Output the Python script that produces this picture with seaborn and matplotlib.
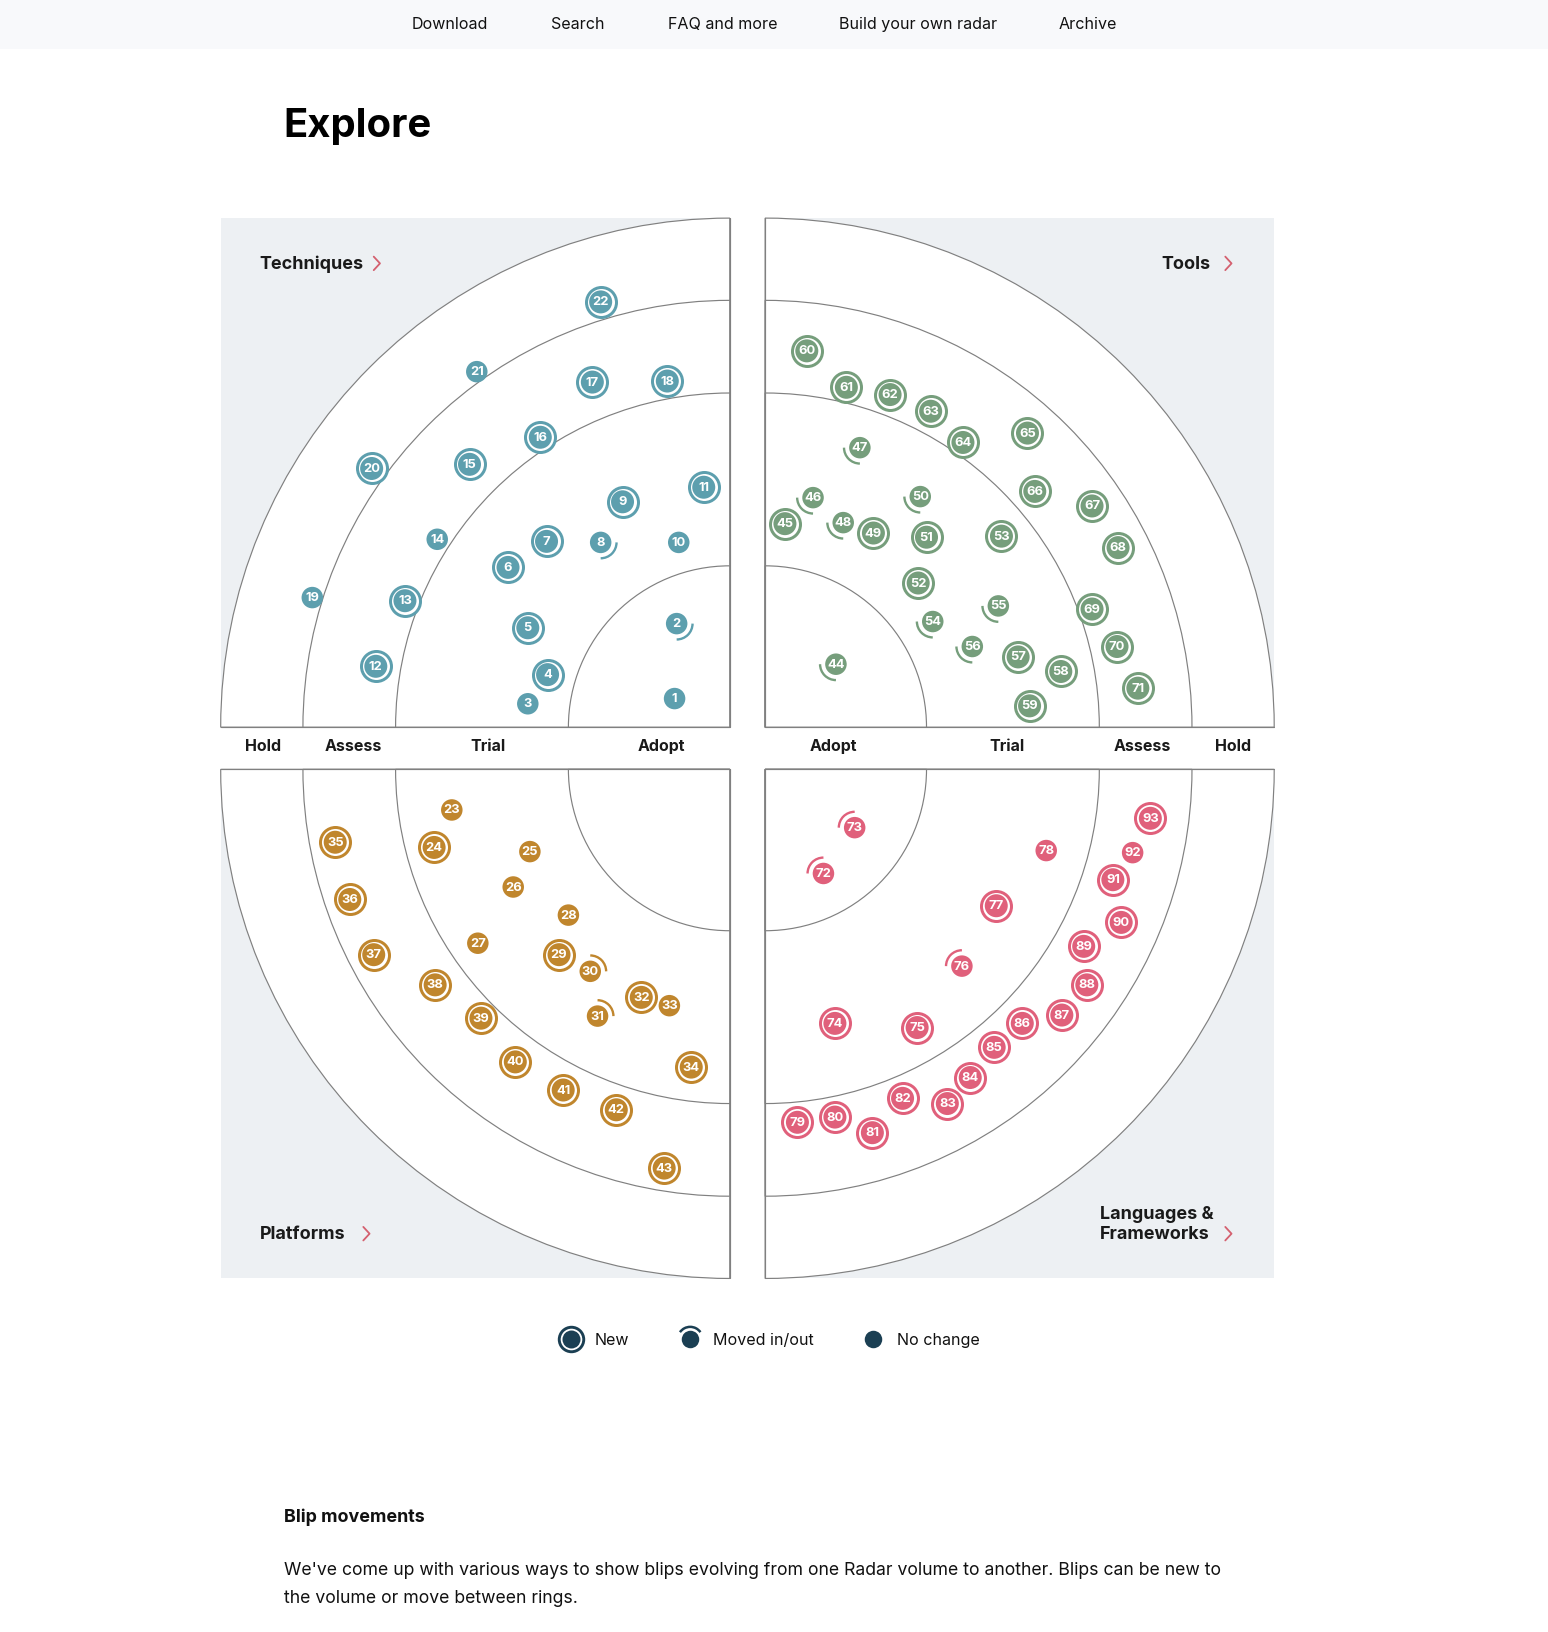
import numpy as np
import pandas as pd
import matplotlib
matplotlib.use('Agg')
import matplotlib.pyplot as plt
from matplotlib.patches import Wedge, Arc, Rectangle
import seaborn as sns

sns.set_theme(style='white')
plt.rcParams['font.family'] = ['Inter', 'DejaVu Sans']

# Blip positions, as offset from the radar centre
tech_ids = list(range(1, 23))
tech_x = [-53, -51, -194, -175, -194, -213, -176, -124, -103, -49, -25,
          -340, -312, -281, -250, -182, -132, -60, -401, -344, -243, -124]
tech_y = [27.5, 99.5, 22.5, 50.5, 95.5, 153.5, 178.5, 177.5, 216.5, 177.5, 230.5,
          58.5, 121.5, 180.5, 252.5, 278.5, 331.5, 332.5, 124.5, 248.5, 341.5, 408.5]

tools_ids = list(range(44, 72))
tools_x = [68, 19, 46, 91, 75, 104, 149, 155, 147, 227, 161, 224, 199, 243,
           284, 254, 40, 78, 120, 159, 190, 252, 259, 314, 339, 314, 338, 358]
tools_y = [60.5, 195.5, 220.5, 268.5, 196.5, 186.5, 221.5, 182.5, 138.5, 183.5, 101.5, 116.5, 77.5, 67.5,
           53.5, 20.5, 361.5, 326.5, 319.5, 303.5, 273.5, 282.5, 226.5, 212.5, 172.5, 113.5, 77.5, 37.5]

plat_ids = list(range(23, 44))
plat_x = [-267, -284, -192, -208, -242, -155, -164, -134, -127, -85, -58,
          -37, -379, -365, -342, -283, -239, -206, -160, -109, -63]
plat_y = [-39, -75, -79, -113, -167, -140, -178, -194, -237, -219, -227,
          -286, -70, -125, -178, -207, -239, -281, -308, -327, -383]

lang_ids = list(range(72, 94))
lang_x = [56, 86, 67, 146, 189, 222, 270, 31, 67, 103, 132,
          175, 197, 220, 247, 285, 309, 306, 342, 334, 353, 370]
lang_y = [-100, -56, -244, -248, -189, -131, -78, -339, -334, -349, -316,
          -321, -296, -267, -244, -236, -207, -170, -147, -106, -80, -47]

moved = [2, 8, 44, 46, 47, 48, 50, 54, 55, 56, 30, 31, 72, 73, 76]
no_change = [1, 3, 10, 14, 19, 21, 23, 25, 26, 27, 28, 33, 78, 92]

ring_radii = [489, 410, 321, 155]
ring_names = ['Adopt', 'Trial', 'Assess', 'Hold']
ring_label_x_left = [635.5, 469, 339.5, 252.5]
ring_label_x_right = [801, 967, 1097, 1184]

nav_labels = ['Download', 'Search', 'FAQ and more', 'Build your own radar', 'Archive']
nav_x = [396, 530, 642, 806, 1017]

# page is laid out in these units
W, H = 1487, 1567.6
BLUE = '#5d9fae'
GREEN = '#769e7c'
ORANGE = '#c0862d'
PINK = '#e0607b'
DARK = '#1b3f53'
BG = '#edf0f3'
LINE = '#808080'
RED = '#d4606f'

quadrants = [
    dict(ids=tech_ids, x=tech_x, y=tech_y, color=BLUE, cx=701, cy=698.5, sx=-1, sy=1, arc=(270, 360)),
    dict(ids=tools_ids, x=tools_x, y=tools_y, color=GREEN, cx=735, cy=698.5, sx=1, sy=1, arc=(180, 270)),
    dict(ids=plat_ids, x=plat_x, y=plat_y, color=ORANGE, cx=701, cy=739, sx=-1, sy=-1, arc=(0, 90)),
    dict(ids=lang_ids, x=lang_x, y=lang_y, color=PINK, cx=735, cy=739, sx=1, sy=-1, arc=(90, 180)),
]


def pt2(px):
    # marker diameter in image pixels to scatter size
    return (px * 0.72) ** 2


fig = plt.figure(figsize=(15.48, 16.32), dpi=100, facecolor='white')
page = fig.add_axes([0, 0, 1, 1], zorder=10)
page.set_xlim(0, W)
page.set_ylim(H, 0)
page.axis('off')

# Nav bar and page text
page.add_patch(Rectangle((0, 0), W, 46.8, color='#f8f9fb', lw=0))
for label, x in zip(nav_labels, nav_x):
    page.text(x - 0.5, 23.5, label, fontsize=11.55, color='#111111', va='center', ha='left')
page.text(272.5, 121.5, 'Explore', fontsize=28.8, fontweight='bold', color='black', va='center', ha='left')

for q in quadrants:
    R = ring_radii[0]
    left = q['cx'] if q['sx'] > 0 else q['cx'] - R
    bottom = H - q['cy'] if q['sy'] > 0 else H - q['cy'] - R
    ax = fig.add_axes([left / W, bottom / H, R / W, R / H], facecolor=BG)
    ax.set_xlim(*sorted([0, q['sx'] * R]))
    ax.set_ylim(*sorted([0, q['sy'] * R]))
    ax.set_xticks([])
    ax.set_yticks([])
    for side, spine in ax.spines.items():
        spine.set_visible(False)

    start = {(-1, 1): 90, (1, 1): 0, (-1, -1): 180, (1, -1): 270}[(q['sx'], q['sy'])]
    for r in ring_radii:
        ax.add_patch(Wedge((0, 0), r, start, start + 90, facecolor='white', edgecolor=LINE, lw=0.85, clip_on=False))

    df = pd.DataFrame({'id': q['ids'], 'x': q['x'], 'y': q['y']})
    df['status'] = 'new'
    df.loc[df['id'].isin(moved), 'status'] = 'moved'
    df.loc[df['id'].isin(no_change), 'status'] = 'none'

    # New blips get a ring, everything gets a filled dot
    sns.scatterplot(data=df[df['status'] == 'new'], x='x', y='y', ax=ax, color='white', edgecolor=q['color'],
                    s=pt2(30), linewidth=3.0 * 0.72, legend=False, clip_on=False, zorder=3)
    sns.scatterplot(data=df[df['status'] == 'new'], x='x', y='y', ax=ax, color=q['color'], edgecolor='none',
                    s=pt2(23), linewidth=0, legend=False, clip_on=False, zorder=4)
    sns.scatterplot(data=df[df['status'] != 'new'], x='x', y='y', ax=ax, color=q['color'], edgecolor='none',
                    s=pt2(21.5), linewidth=0, legend=False, clip_on=False, zorder=4)
    ax.set_xlabel('')
    ax.set_ylabel('')

    for _, row in df[df['status'] == 'moved'].iterrows():
        ax.add_patch(Arc((row['x'], row['y']), 30.5, 30.5, theta1=q['arc'][0], theta2=q['arc'][1],
                         color=q['color'], lw=1.7, zorder=4))
    for _, row in df.iterrows():
        ax.text(row['x'], row['y'] - 0.5, str(row['id']), color='white', fontsize=9.3, fontweight='bold',
                ha='center', va='center', zorder=5)

# Outer edges along the axes of the radar
page.plot([212, 701, 701], [698.5, 698.5, 209.5], color=LINE, lw=0.85, zorder=5)
page.plot([735, 735, 1224], [209.5, 698.5, 698.5], color=LINE, lw=0.85, zorder=5)
page.plot([212, 701, 701], [739, 739, 1228], color=LINE, lw=0.85, zorder=5)
page.plot([735, 735, 1224], [1228, 739, 739], color=LINE, lw=0.85, zorder=5)

# Ring names between the quadrants
for name, x in zip(ring_names, ring_label_x_left):
    page.text(x, 717, name, fontsize=11.5, fontweight='bold', color='#1a1a1a', ha='center', va='center')
for name, x in zip(ring_names, ring_label_x_right):
    page.text(x, 717, name, fontsize=11.5, fontweight='bold', color='#1a1a1a', ha='center', va='center')

# Quadrant titles and chevrons
titles = [('Techniques', 249.5, 254, 359), ('Tools', 1115.5, 254, 1177),
          ('Platforms', 249.5, 1186, 349), ('Frameworks', 1057, 1186, 1177)]
for label, x, y, chev in titles:
    page.text(x, y, label, fontsize=12.95, fontweight='bold', color='#1a1a1a', ha='left', va='center')
    page.plot([chev, chev + 6, chev], [y - 7.5, y - 1, y + 5.5], color=RED, lw=1.3)
page.text(1057, 1167, 'Languages &', fontsize=12.95, fontweight='bold', color='#1a1a1a', ha='left', va='center')

# Legend
ly = 1286.5
page.scatter([548.5], [ly], s=pt2(24.5), facecolor='white', edgecolor=DARK, linewidth=2.9 * 0.72, zorder=3)
page.scatter([548.5], [ly], s=pt2(18), color=DARK, linewidth=0, zorder=4)
page.scatter([663], [ly], s=pt2(17.5), color=DARK, linewidth=0, zorder=4)
page.add_patch(Arc((663, ly), 24, 24, theta1=215, theta2=325, color=DARK, lw=1.8))
page.scatter([839], [ly], s=pt2(17.5), color=DARK, linewidth=0, zorder=4)
for label, x in [('New', 571.5), ('Moved in/out', 685), ('No change', 861.5)]:
    page.text(x, ly + 1, label, fontsize=11.55, color='#111111', ha='left', va='center')

# Text under the chart
page.text(273, 1457.5, 'Blip movements', fontsize=12.9, fontweight='bold', color='#111111', ha='left', va='center')
page.text(273, 1509, "We've come up with various ways to show blips evolving from one Radar volume to another. Blips can be new to",
          fontsize=12.7, color='#111111', ha='left', va='center')
page.text(273, 1535, 'the volume or move between rings.', fontsize=12.7, color='#111111', ha='left', va='center')

fig.savefig('out.png', dpi=100)
